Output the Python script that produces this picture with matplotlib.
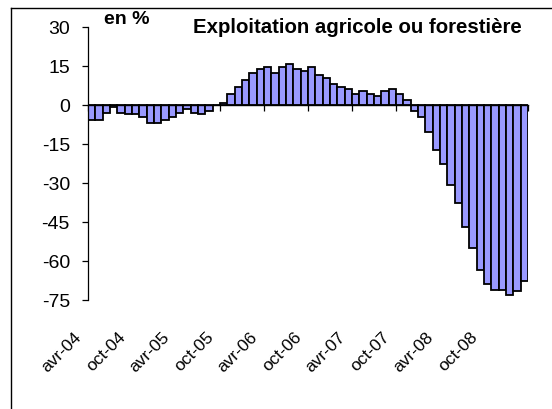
import numpy as np
import matplotlib
matplotlib.use("Agg")
import matplotlib.pyplot as plt
import matplotlib.transforms as mtransforms
from matplotlib.lines import Line2D

plt.rcParams['font.family'] = ['Liberation Sans', 'DejaVu Sans']

# Monthly values, avr-04 .. mars-09 (60 months), in %
values = [-5.8, -5.8, -3.3, -1.0, -3.0, -3.6, -3.6, -4.9, -7.1, -7.1, -5.8, -4.9,
          -3.3, -1.7, -3.0, -3.6, -2.3, 0.0,
          0.8, 4.1, 6.7, 9.5, 12.2, 13.7, 14.4, 12.2, 14.4, 15.6, 13.7, 13.1,
          14.4, 11.5, 10.2, 8.1, 6.9, 5.9, 4.1, 5.4, 4.1, 3.2, 5.4, 6.0, 4.1, 1.9,
          -2.6, -4.9, -10.4, -17.3, -22.8, -30.9, -37.9, -46.9, -55.2, -63.5,
          -69.0, -71.2, -71.2, -73.2, -71.8, -67.7]
tick_labels = ['avr-04', 'oct-04', 'avr-05', 'oct-05', 'avr-06', 'oct-06',
               'avr-07', 'oct-07', 'avr-08', 'oct-08']
y_ticks = [30, 15, 0, -15, -30, -45, -60, -75]
title = 'Exploitation agricole ou forestière'
unit = 'en %'

W, H = 552, 410
fig = plt.figure(figsize=(W / 100, H / 100), dpi=100)
ax = fig.add_axes([88 / W, 1 - 300.7 / H, (528 - 88) / W, (300.7 - 27.7) / H])
ax.patch.set_alpha(0)

x = np.arange(len(values))
ax.bar(x, values, width=1.0, color='#9999FF', edgecolor='black', linewidth=1.3, zorder=2)
ax.set_xlim(-0.5, len(values) - 0.5)
ax.set_ylim(min(y_ticks), max(y_ticks))
ax.set_yticks(y_ticks)
ax.set_yticklabels([str(v) for v in y_ticks])

for s in ['top', 'right']:
    ax.spines[s].set_visible(False)
ax.spines['bottom'].set_position(('data', 0))
ax.spines['bottom'].set_zorder(3)
ax.spines['left'].set_linewidth(0.9)
ax.spines['bottom'].set_linewidth(1.0)

ax.set_xticks(np.arange(-0.5, len(values), 6))
ax.tick_params(axis='x', direction='out', length=4, width=0.9, labelbottom=False)
ax.tick_params(axis='y', direction='out', length=4, width=0.9, pad=9, labelsize=14)

trans = mtransforms.blended_transform_factory(ax.transData, ax.transAxes)
for j, lab in enumerate(tick_labels):
    ax.text(j * 6 - 1.7, -0.125, lab, transform=trans, rotation=45, ha='right',
            va='center', rotation_mode='anchor', fontsize=12.5)

fig.text(104 / W, 1 - 20 / H, unit, fontweight='bold', fontsize=14, ha='left', va='center')
fig.text(193 / W, 1 - 27.5 / H, title, fontweight='bold', fontsize=14.7, ha='left', va='center')

# outer frame (left and top edges visible)
fig.add_artist(Line2D([11 / W, 11 / W], [0, 1 - 9 / H], transform=fig.transFigure, color='black', lw=1.0))
fig.add_artist(Line2D([11 / W, 1], [1 - 9 / H, 1 - 9 / H], transform=fig.transFigure, color='black', lw=1.0))

fig.savefig('out.png', dpi=100)
